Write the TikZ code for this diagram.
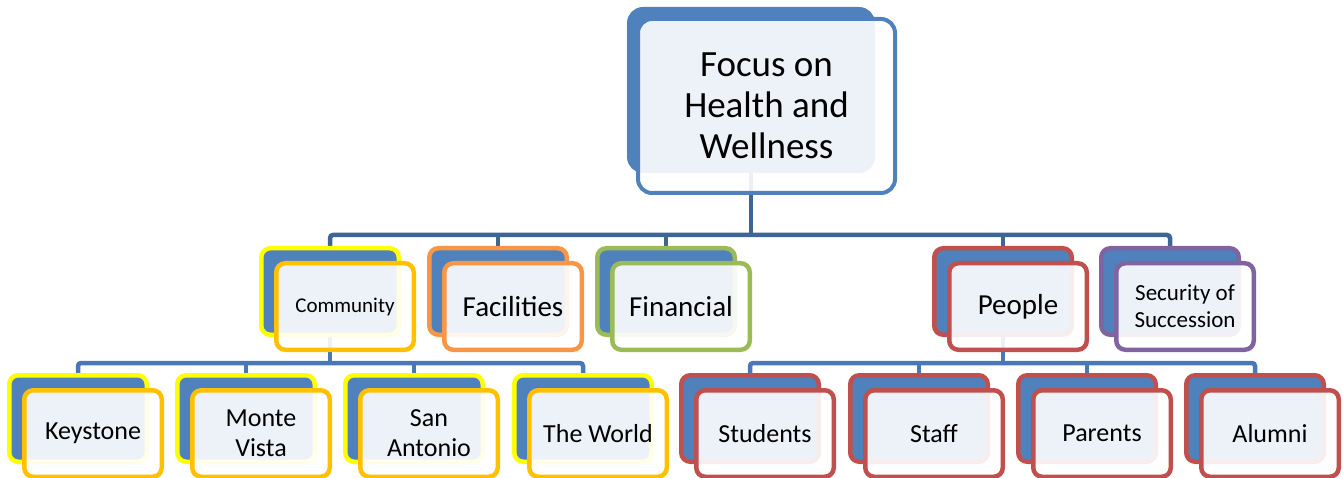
\documentclass[tikz,border=0pt]{standalone}
\usepackage{fontspec}
\setmainfont{Carlito}
\usetikzlibrary{backgrounds}

\definecolor{accblue}{HTML}{4F81BD}
\definecolor{linkdark}{HTML}{3F6597}
\definecolor{linklight}{HTML}{4A78B4}
\definecolor{gold}{HTML}{FFC000}
\definecolor{lemon}{HTML}{FFFF00}
\definecolor{tangerine}{HTML}{F79646}
\definecolor{leaf}{HTML}{9BBB59}
\definecolor{brick}{HTML}{C0504D}
\definecolor{grape}{HTML}{8064A2}

\tikzset{
  boxsize/.style={minimum width=137.5pt, minimum height=86.5pt, inner sep=0pt},
  backcard/.style={boxsize, draw=#1, fill=accblue, line width=4.5pt, rounded corners=9pt},
  frontcard/.style={boxsize, draw=#1, fill=white, fill opacity=0.9, text opacity=1,
    line width=4.5pt, rounded corners=9pt, align=center, text=black},
  midtext/.style={font=\fontsize{29}{34}\selectfont},
  lowtext/.style={font=\fontsize{26}{30}\selectfont},
  linkA/.style={draw=linkdark, line width=4.5pt, rounded corners=3pt},
  linkB/.style={draw=linklight, line width=4.5pt, rounded corners=3pt},
}

\begin{document}
\begin{tikzpicture}[x=1pt, y=-1pt]
\useasboundingbox (0,0) rectangle (1343,478);

% root
\node[draw=accblue, fill=accblue, line width=4pt, rounded corners=14pt,
      minimum width=244pt, minimum height=162pt, inner sep=0pt] (rootb) at (751,90) {};
\node[draw=accblue, fill=white, fill opacity=0.9, text opacity=1, line width=4pt,
      rounded corners=14pt, minimum width=257pt, minimum height=174pt, inner sep=0pt,
      align=center, font=\fontsize{37}{41}\selectfont] (root) at (766.5,106)
      {Focus on\\Health and\\Wellness};

% second level
\node[backcard=lemon] (commb) at (330,291.5) {};
\node[frontcard=gold, font=\fontsize{21}{25}\selectfont] (comm) at (345,306.5) {Community};

\node[backcard=tangerine] (facb) at (498,291.5) {};
\node[frontcard=tangerine, midtext] (fac) at (513,306.5) {Facilities};

\node[backcard=leaf] (finb) at (666,291.5) {};
\node[frontcard=leaf, midtext] (fin) at (681,306.5) {Financial};

\node[backcard=brick] (peob) at (1003,291.5) {};
\node[frontcard=brick, midtext] (peo) at (1018,306.5) {People};

\node[backcard=grape] (secb) at (1170,291.5) {};
\node[frontcard=grape, font=\fontsize{23}{27}\selectfont] (sec) at (1185,306.5) {Security of\\Succession};

% third level under Community
\node[backcard=lemon] (ksb) at (78,418.5) {};
\node[frontcard=gold, lowtext] (ks) at (93,433.5) {Keystone};

\node[backcard=lemon] (mvb) at (246,418.5) {};
\node[frontcard=gold, lowtext] (mv) at (261,433.5) {Monte\\Vista};

\node[backcard=lemon] (sab) at (414,418.5) {};
\node[frontcard=gold, lowtext] (sa) at (429,433.5) {San\\Antonio};

\node[backcard=lemon] (twb) at (583,418.5) {};
\node[frontcard=gold, lowtext] (tw) at (598,433.5) {The World};

% third level under People
\node[backcard=brick] (stb) at (750,418.5) {};
\node[frontcard=brick, lowtext] (st) at (765,433.5) {Students};

\node[backcard=brick] (sfb) at (919,418.5) {};
\node[frontcard=brick, lowtext] (sf) at (934,433.5) {Staff};

\node[backcard=brick] (pab) at (1087,418.5) {};
\node[frontcard=brick, lowtext] (pa) at (1102,433.5) {Parents};

\node[backcard=brick] (alb) at (1255,418.5) {};
\node[frontcard=brick, lowtext] (al) at (1270,433.5) {Alumni};

% connector rails
\coordinate (railA) at (0,235);
\coordinate (railB) at (0,363);

\begin{scope}[on background layer]
  \draw[linkA] (rootb.center) -- (rootb.center |- railA);
  \draw[linkA] (commb.center) |- (secb.center |- railA) -- (secb.center);
  \draw[linkA] (facb.center) -- (facb.center |- railA);
  \draw[linkA] (finb.center) -- (finb.center |- railA);
  \draw[linkA] (peob.center) -- (peob.center |- railA);

  \draw[linkB] (commb.center) -- (commb.center |- railB);
  \draw[linkB] (ksb.center) |- (twb.center |- railB) -- (twb.center);
  \draw[linkB] (mvb.center) -- (mvb.center |- railB);
  \draw[linkB] (sab.center) -- (sab.center |- railB);

  \draw[linkB] (peob.center) -- (peob.center |- railB);
  \draw[linkB] (stb.center) |- (alb.center |- railB) -- (alb.center);
  \draw[linkB] (sfb.center) -- (sfb.center |- railB);
  \draw[linkB] (pab.center) -- (pab.center |- railB);
\end{scope}
\end{tikzpicture}
\end{document}
